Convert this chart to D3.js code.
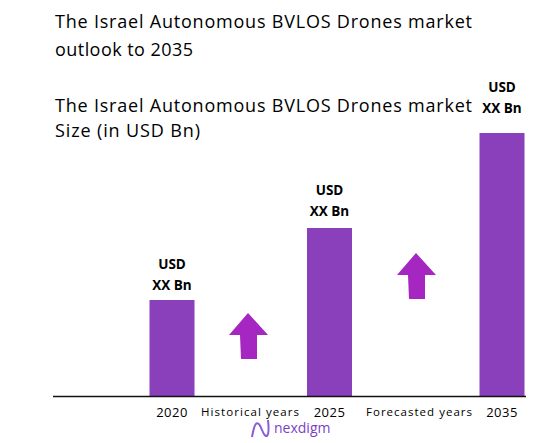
<!DOCTYPE html>
<html><head><meta charset="utf-8">
<script src="https://cdn.jsdelivr.net/npm/d3@7"></script>
<style>body{margin:0;background:#fff}</style></head>
<body><svg id="c" width="548" height="443"></svg>
<script>
const categories = ["2020","2025","2035"];
const values = [0.96, 1.68, 2.63];
const barLabels = ["USD","XX Bn"];
const periodLabels = ["Historical years","Forecasted years"];
const svg = d3.select("#c");
const F = "'Open Sans', sans-serif";
function title(t,yy,len){const e=svg.append("text").attr("x",55).attr("y",yy).attr("font-family",F).attr("font-size",18).text(t); if(len) e.attr("textLength",len).attr("lengthAdjust","spacing");}
title("The Israel Autonomous BVLOS Drones market",28,417);
title("outlook to 2035",56,138);
title("The Israel Autonomous BVLOS Drones market",112,417);
title("Size (in USD Bn)",137,145);
const x = d3.scaleOrdinal().domain(categories).range([172,329.5,502]);
const y = d3.scaleLinear().domain([0,2.63]).range([396,133]);
const bw = 45;
const labelOffset = [0,-2,-10];
categories.forEach((c,i)=>{
  const cx = x(c);
  svg.append("rect").attr("x",cx-bw/2).attr("y",y(values[i])).attr("width",bw).attr("height",396-y(values[i])).attr("fill","#8a3fbb");
  barLabels.forEach((t,j)=>svg.append("text").attr("x",cx).attr("y",y(values[i])-31+labelOffset[i]+j*21).attr("text-anchor","middle").attr("font-family",F).attr("font-weight","bold").attr("font-size",13.5).text(t));
  svg.append("text").attr("x",cx).attr("y",417).attr("text-anchor","middle").attr("font-family",F).attr("font-size",13).attr("letter-spacing",0.5).text(c);
});
svg.append("line").attr("x1",53).attr("x2",526).attr("y1",396.5).attr("y2",396.5).attr("stroke","#111").attr("stroke-width",1.5);
[[248,313],[416,253]].forEach(([cx,ty],i)=>{
  svg.append("path").attr("fill","#a526c0").attr("d",`M${cx},${ty} L${cx+20},${ty+22} L${cx+9},${ty+22} L${cx+9},${ty+46} L${cx-7},${ty+46} L${cx-8},${ty+22} L${cx-19},${ty+22} Z`);
  svg.append("text").attr("x",i?419:250).attr("y",416).attr("text-anchor","middle").attr("font-family",F).attr("font-size",11.5).attr("textLength",i?106:98).text(periodLabels[i]);
});
svg.append("path").attr("d","M252,437 C255,420 258,420 262,430 C266,440 270,438 268,420").attr("fill","none").attr("stroke","#8a5cd6").attr("stroke-width",2);
svg.append("text").attr("x",274).attr("y",433).attr("font-family",F).attr("font-size",14).attr("fill","#7b3fc4").text("nexdigm");
</script></body></html>
